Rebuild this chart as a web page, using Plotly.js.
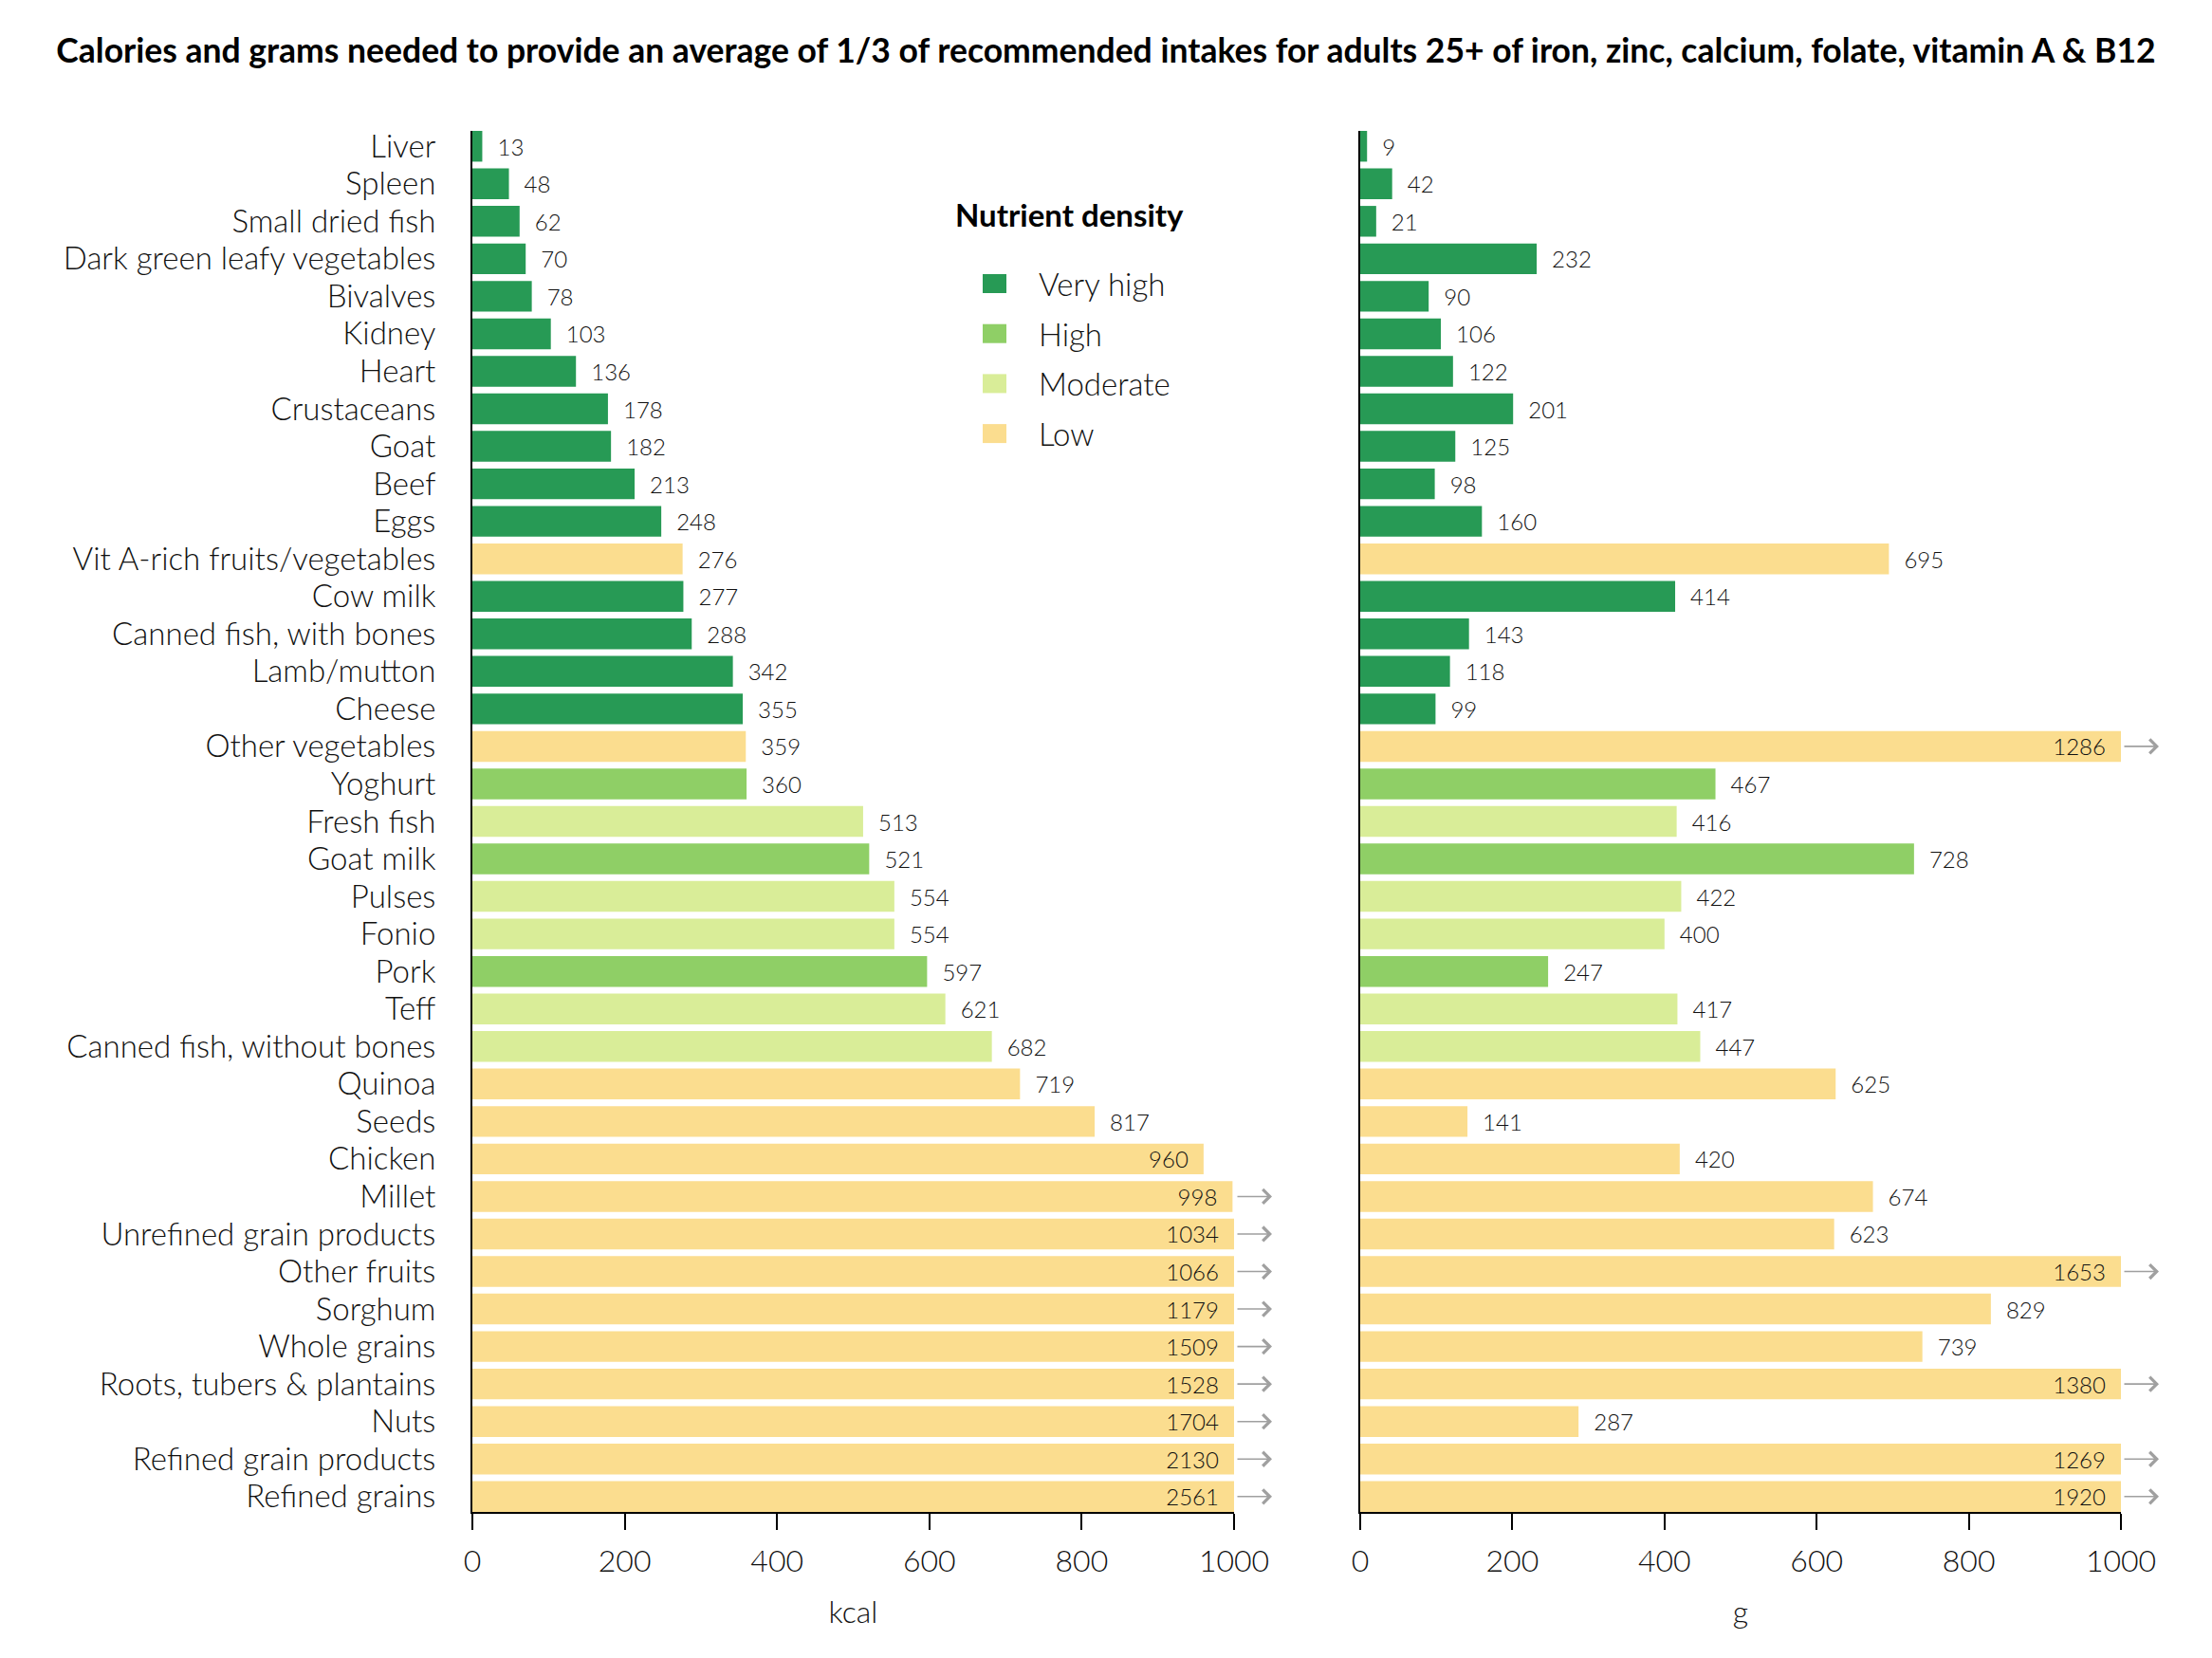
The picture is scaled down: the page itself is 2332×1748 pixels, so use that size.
<!DOCTYPE html>
<html><head><meta charset="utf-8">
<script src="https://cdn.plot.ly/plotly-3.0.1.min.js"></script>
<style>html,body{margin:0;padding:0;background:#fff}</style>
</head><body><div id="chart" style="width:2332px;height:1748px"></div>
<script>
// ---------------- data ----------------
const categories = ["Liver","Spleen","Small dried fish","Dark green leafy vegetables","Bivalves","Kidney","Heart","Crustaceans","Goat","Beef","Eggs","Vit A-rich fruits/vegetables","Cow milk","Canned fish, with bones","Lamb/mutton","Cheese","Other vegetables","Yoghurt","Fresh fish","Goat milk","Pulses","Fonio","Pork","Teff","Canned fish, without bones","Quinoa","Seeds","Chicken","Millet","Unrefined grain products","Other fruits","Sorghum","Whole grains","Roots, tubers & plantains","Nuts","Refined grain products","Refined grains"];
const kcal = [13,48,62,70,78,103,136,178,182,213,248,276,277,288,342,355,359,360,513,521,554,554,597,621,682,719,817,960,998,1034,1066,1179,1509,1528,1704,2130,2561];
const grams = [9,42,21,232,90,106,122,201,125,98,160,695,414,143,118,99,1286,467,416,728,422,400,247,417,447,625,141,420,674,623,1653,829,739,1380,287,1269,1920];
const density = ["Very high","Very high","Very high","Very high","Very high","Very high","Very high","Very high","Very high","Very high","Very high","Low","Very high","Very high","Very high","Very high","Low","High","Moderate","High","Moderate","Moderate","High","Moderate","Moderate","Low","Low","Low","Low","Low","Low","Low","Low","Low","Low","Low","Low"];
const densityLevels = ["Very high","High","Moderate","Low"];
const densityColors = ["#279a55","#8fcf66","#d9ed98","#fbdd8f"];
const xTicks = [0,200,400,600,800,1000];
const xTickLabels = ["0","200","400","600","800","1000"];
const axisTitles = ["kcal","g"];
const chartTitle = "Calories and grams needed to provide an average of 1/3 of recommended intakes for adults 25+ of iron, zinc, calcium, folate, vitamin A & B12";
const legendTitle = "Nutrient density";

// ---------------- helpers ----------------
const W = 2332, H = 1748;
const PLOT_TOP = 138, PLOT_BOTTOM = 1594;
const AXIS_MAX = 1000;
const FONT = "'Lato Light', Lato, 'Open Sans', sans-serif";
const BOLD = "Lato, 'Open Sans', sans-serif";
const xp = px => px / W;
const yp = py => (PLOT_BOTTOM - py) / (PLOT_BOTTOM - PLOT_TOP);
const NB = "\u00a0\u00a0";
const barColors = density.map(d => densityColors[densityLevels.indexOf(d)]);

function barTrace(values, xa, ya) {
  return {
    type: "bar", orientation: "h",
    x: values.map(v => Math.min(v, AXIS_MAX)),
    y: categories,
    width: 0.82,
    marker: {color: barColors, line: {width: 0}},
    text: values.map(v => v > 900 ? (v + NB) : (NB + v)),
    textposition: values.map(v => v > 900 ? "inside" : "outside"),
    insidetextanchor: "end",
    constraintext: "none",
    cliponaxis: false,
    textangle: 0,
    textfont: {family: FONT, size: 24, color: "#111"},
    insidetextfont: {family: FONT, size: 24, color: "#111"},
    outsidetextfont: {family: FONT, size: 24, color: "#111"},
    hoverinfo: "skip",
    xaxis: xa, yaxis: ya, showlegend: false
  };
}

function arrowAnnots(values, xref, yref) {
  const out = [];
  values.forEach((v, i) => {
    if (v >= AXIS_MAX * 0.99) {
      out.push({
        xref: xref, yref: yref, x: AXIS_MAX, y: categories[i],
        axref: "pixel", ayref: "pixel", ax: -38, ay: 0, xshift: 40,
        text: "", showarrow: true, arrowhead: 4, arrowsize: 1.8,
        arrowwidth: 1.6, arrowcolor: "#a0a0a0", standoff: 0, startstandoff: 0
      });
    }
  });
  return out;
}

const yRange = [categories.length - 1 + 0.41, -0.41];
function xAxis(domain, title) {
  return {
    domain: domain, range: [0, AXIS_MAX], fixedrange: true,
    tickvals: xTicks, ticktext: xTickLabels,
    ticks: "outside", ticklen: 17, tickwidth: 2, tickcolor: "#000",
    ticklabelstandoff: 6,
    showline: true, linewidth: 2, linecolor: "#000",
    showgrid: false, zeroline: false,
    tickfont: {family: FONT, size: 32, color: "#111"},
    title: {text: title, font: {family: FONT, size: 32, color: "#111"}, standoff: 25}
  };
}
function yAxis(anchor, showLabels) {
  return {
    type: "category", range: yRange, anchor: anchor, fixedrange: true,
    tickmode: "array", tickvals: categories, ticktext: categories,
    showline: true, linewidth: 2, linecolor: "#000",
    showgrid: false, zeroline: false, ticks: "",
    showticklabels: showLabels, ticklabelstandoff: 30,
    tickfont: {family: FONT, size: 33, color: "#111"}
  };
}

// ---------------- legend (manual) ----------------
const legendShapes = [];
const legendAnnots = [{
  xref: "paper", yref: "paper", x: xp(1005), y: yp(226), xanchor: "left", yanchor: "middle",
  text: "<b>" + legendTitle + "</b>", showarrow: false,
  font: {family: BOLD, size: 33, color: "#000"}
}];
densityLevels.forEach((lvl, k) => {
  const cy = 299 + k * 52.7;
  legendShapes.push({
    type: "rect", xref: "paper", yref: "paper",
    x0: xp(1036), x1: xp(1061), y0: yp(cy + 10), y1: yp(cy - 10),
    fillcolor: densityColors[k], line: {width: 0}
  });
  legendAnnots.push({
    xref: "paper", yref: "paper", x: xp(1093), y: yp(cy), xanchor: "left", yanchor: "middle",
    text: lvl, showarrow: false, font: {family: FONT, size: 33, color: "#111"}
  });
});

const data = [barTrace(kcal, "x", "y"), barTrace(grams, "x2", "y2")];
const layout = {
  width: W, height: H,
  margin: {l: 0, r: 0, t: PLOT_TOP, b: H - PLOT_BOTTOM, pad: 0},
  paper_bgcolor: "#fff", plot_bgcolor: "rgba(0,0,0,0)",
  font: {family: FONT, color: "#111"},
  title: {text: "<b>" + chartTitle + "</b>", x: 0.5, xanchor: "center", y: 1 - 54 / H, yanchor: "middle",
          font: {family: BOLD, size: 35.5, color: "#000"}},
  xaxis: xAxis([xp(498), xp(1301)], axisTitles[0]),
  xaxis2: xAxis([xp(1434), xp(2236)], axisTitles[1]),
  yaxis: yAxis("x", true),
  yaxis2: yAxis("x2", false),
  bargap: 0.18,
  showlegend: false,
  shapes: legendShapes,
  annotations: legendAnnots.concat(arrowAnnots(kcal, "x", "y"), arrowAnnots(grams, "x2", "y2"))
};
layout.xaxis2.anchor = "y2";
layout.xaxis.anchor = "y";
Plotly.newPlot("chart", data, layout, {displayModeBar: false, staticPlot: true});
</script>
</body></html>
